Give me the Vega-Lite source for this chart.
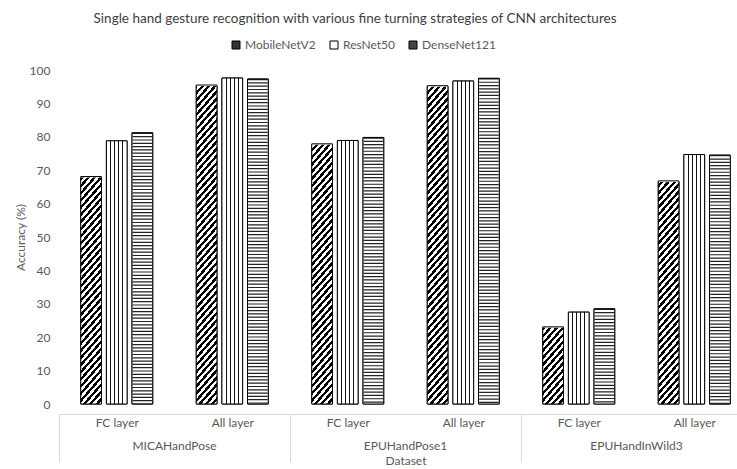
{
  "$schema": "https://vega.github.io/schema/vega-lite/v6.json",
  "padding": {"left": 14, "top": 11, "right": 0, "bottom": 0},
  "background": "white",
  "title": {"text": "Single hand gesture recognition with various fine turning strategies of CNN architectures", "font": "Lato", "fontSize": 13.5, "fontWeight": "normal", "color": "#404040", "anchor": "middle", "dx": -28, "offset": 14},
  "data": {"values": [
    {"Dataset": "MICAHandPose", "Layer": "FC layer", "Model": "MobileNetV2", "Accuracy": 68.1},
    {"Dataset": "MICAHandPose", "Layer": "FC layer", "Model": "ResNet50", "Accuracy": 78.8},
    {"Dataset": "MICAHandPose", "Layer": "FC layer", "Model": "DenseNet121", "Accuracy": 81.2},
    {"Dataset": "MICAHandPose", "Layer": "All layer", "Model": "MobileNetV2", "Accuracy": 95.5},
    {"Dataset": "MICAHandPose", "Layer": "All layer", "Model": "ResNet50", "Accuracy": 97.6},
    {"Dataset": "MICAHandPose", "Layer": "All layer", "Model": "DenseNet121", "Accuracy": 97.3},
    {"Dataset": "EPUHandPose1", "Layer": "FC layer", "Model": "MobileNetV2", "Accuracy": 77.9},
    {"Dataset": "EPUHandPose1", "Layer": "FC layer", "Model": "ResNet50", "Accuracy": 78.9},
    {"Dataset": "EPUHandPose1", "Layer": "FC layer", "Model": "DenseNet121", "Accuracy": 79.8},
    {"Dataset": "EPUHandPose1", "Layer": "All layer", "Model": "MobileNetV2", "Accuracy": 95.3},
    {"Dataset": "EPUHandPose1", "Layer": "All layer", "Model": "ResNet50", "Accuracy": 96.7},
    {"Dataset": "EPUHandPose1", "Layer": "All layer", "Model": "DenseNet121", "Accuracy": 97.5},
    {"Dataset": "EPUHandInWild3", "Layer": "FC layer", "Model": "MobileNetV2", "Accuracy": 23.1},
    {"Dataset": "EPUHandInWild3", "Layer": "FC layer", "Model": "ResNet50", "Accuracy": 27.5},
    {"Dataset": "EPUHandInWild3", "Layer": "FC layer", "Model": "DenseNet121", "Accuracy": 28.5},
    {"Dataset": "EPUHandInWild3", "Layer": "All layer", "Model": "MobileNetV2", "Accuracy": 66.8},
    {"Dataset": "EPUHandInWild3", "Layer": "All layer", "Model": "ResNet50", "Accuracy": 74.7},
    {"Dataset": "EPUHandInWild3", "Layer": "All layer", "Model": "DenseNet121", "Accuracy": 74.5}
  ]},
  "facet": {"column": {"field": "Dataset", "type": "nominal", "sort": ["MICAHandPose", "EPUHandPose1", "EPUHandInWild3"],
    "header": {"labelOrient": "bottom", "titleOrient": "bottom", "title": "Dataset", "labelFont": "Lato", "labelFontSize": 12, "labelColor": "#595959", "labelPadding": -22, "titleFont": "Lato", "titleFontSize": 12, "titleFontWeight": "normal", "titleColor": "#595959", "titlePadding": -17}}},
  "spacing": 0,
  "spec": {
    "width": 231,
    "height": 334,
    "encoding": {
      "x": {"field": "Layer", "type": "nominal", "sort": ["FC layer", "All layer"], "scale": {"paddingInner": 0.377, "paddingOuter": 0.1883},
        "axis": {"title": null, "labelAngle": 0, "labelFont": "Lato", "labelFontSize": 12, "labelColor": "#595959", "domainColor": "#d9d9d9", "tickColor": "#d9d9d9", "tickSize": 48, "tickOffset": -57.75, "labelOffset": 57.75, "tickOpacity": {"condition": {"test": "datum.value === 'FC layer'", "value": 1}, "value": 0}, "labelPadding": -45}},
      "xOffset": {"field": "Model", "type": "nominal", "sort": ["MobileNetV2", "ResNet50", "DenseNet121"], "scale": {"paddingInner": 0.193, "paddingOuter": 0}},
      "y": {"field": "Accuracy", "type": "quantitative", "scale": {"domain": [0, 100]},
        "axis": {"title": "Accuracy (%)", "values": [0, 10, 20, 30, 40, 50, 60, 70, 80, 90, 100], "domain": false, "ticks": false, "grid": false, "labelFont": "Lato", "labelFontSize": 12, "labelColor": "#595959", "labelPadding": 9, "titleFont": "Lato", "titleFontSize": 12, "titleFontWeight": "normal", "titleColor": "#595959", "titlePadding": 2}}
    },
    "layer": [
      {"mark": {"type": "bar", "stroke": "black", "strokeWidth": 1},
       "encoding": {"fill": {"field": "Model", "type": "nominal", "sort": ["MobileNetV2", "ResNet50", "DenseNet121"],
         "scale": {"domain": ["MobileNetV2", "ResNet50", "DenseNet121"], "range": ["#333333", "#ffffff", "#444444"]},
         "legend": {"orient": "none", "legendX": 171, "legendY": -31, "direction": "horizontal", "title": null, "labelFont": "Lato", "labelFontSize": 12, "labelColor": "#595959", "symbolType": "square", "symbolSize": 64, "symbolStrokeColor": "black", "symbolStrokeWidth": 1, "columnPadding": 12, "labelOffset": 3}}}},
      {"mark": {"type": "bar", "fill": "#ffffff", "stroke": null}},
      {"transform": [{"filter": "datum.Model === 'ResNet50'"}],
       "mark": {"type": "bar", "stroke": null, "fill": {"gradient": "linear", "x1": 0, "y1": 0, "x2": 1, "y2": 0, "stops": [
         {"offset": 0, "color": "#fff"}, {"offset": 0.175, "color": "#fff"}, {"offset": 0.175, "color": "#111"}, {"offset": 0.225, "color": "#111"}, {"offset": 0.225, "color": "#fff"},
         {"offset": 0.375, "color": "#fff"}, {"offset": 0.375, "color": "#111"}, {"offset": 0.425, "color": "#111"}, {"offset": 0.425, "color": "#fff"},
         {"offset": 0.575, "color": "#fff"}, {"offset": 0.575, "color": "#111"}, {"offset": 0.625, "color": "#111"}, {"offset": 0.625, "color": "#fff"},
         {"offset": 0.775, "color": "#fff"}, {"offset": 0.775, "color": "#111"}, {"offset": 0.825, "color": "#111"}, {"offset": 0.825, "color": "#fff"},
         {"offset": 1, "color": "#fff"}]}}},
      {"transform": [{"filter": "datum.Model === 'MobileNetV2'"}],
       "mark": {"type": "bar", "stroke": null, "fill": {"gradient": "linear", "x1": 0, "y1": 0, "x2": 0.0753, "y2": 1.0654, "stops": [
         {"offset": 0, "color": "#000"},
         {"offset": 0.01, "color": "#000"}, {"offset": 0.01, "color": "#fff"}, {"offset": 0.02, "color": "#fff"}, {"offset": 0.02, "color": "#000"},
         {"offset": 0.03, "color": "#000"}, {"offset": 0.03, "color": "#fff"}, {"offset": 0.04, "color": "#fff"}, {"offset": 0.04, "color": "#000"},
         {"offset": 0.05, "color": "#000"}, {"offset": 0.05, "color": "#fff"}, {"offset": 0.06, "color": "#fff"}, {"offset": 0.06, "color": "#000"},
         {"offset": 0.07, "color": "#000"}, {"offset": 0.07, "color": "#fff"}, {"offset": 0.08, "color": "#fff"}, {"offset": 0.08, "color": "#000"},
         {"offset": 0.09, "color": "#000"}, {"offset": 0.09, "color": "#fff"}, {"offset": 0.10, "color": "#fff"}, {"offset": 0.10, "color": "#000"},
         {"offset": 0.11, "color": "#000"}, {"offset": 0.11, "color": "#fff"}, {"offset": 0.12, "color": "#fff"}, {"offset": 0.12, "color": "#000"},
         {"offset": 0.13, "color": "#000"}, {"offset": 0.13, "color": "#fff"}, {"offset": 0.14, "color": "#fff"}, {"offset": 0.14, "color": "#000"},
         {"offset": 0.15, "color": "#000"}, {"offset": 0.15, "color": "#fff"}, {"offset": 0.16, "color": "#fff"}, {"offset": 0.16, "color": "#000"},
         {"offset": 0.17, "color": "#000"}, {"offset": 0.17, "color": "#fff"}, {"offset": 0.18, "color": "#fff"}, {"offset": 0.18, "color": "#000"},
         {"offset": 0.19, "color": "#000"}, {"offset": 0.19, "color": "#fff"}, {"offset": 0.20, "color": "#fff"}, {"offset": 0.20, "color": "#000"},
         {"offset": 0.21, "color": "#000"}, {"offset": 0.21, "color": "#fff"}, {"offset": 0.22, "color": "#fff"}, {"offset": 0.22, "color": "#000"},
         {"offset": 0.23, "color": "#000"}, {"offset": 0.23, "color": "#fff"}, {"offset": 0.24, "color": "#fff"}, {"offset": 0.24, "color": "#000"},
         {"offset": 0.25, "color": "#000"}, {"offset": 0.25, "color": "#fff"}, {"offset": 0.26, "color": "#fff"}, {"offset": 0.26, "color": "#000"},
         {"offset": 0.27, "color": "#000"}, {"offset": 0.27, "color": "#fff"}, {"offset": 0.28, "color": "#fff"}, {"offset": 0.28, "color": "#000"},
         {"offset": 0.29, "color": "#000"}, {"offset": 0.29, "color": "#fff"}, {"offset": 0.30, "color": "#fff"}, {"offset": 0.30, "color": "#000"},
         {"offset": 0.31, "color": "#000"}, {"offset": 0.31, "color": "#fff"}, {"offset": 0.32, "color": "#fff"}, {"offset": 0.32, "color": "#000"},
         {"offset": 0.33, "color": "#000"}, {"offset": 0.33, "color": "#fff"}, {"offset": 0.34, "color": "#fff"}, {"offset": 0.34, "color": "#000"},
         {"offset": 0.35, "color": "#000"}, {"offset": 0.35, "color": "#fff"}, {"offset": 0.36, "color": "#fff"}, {"offset": 0.36, "color": "#000"},
         {"offset": 0.37, "color": "#000"}, {"offset": 0.37, "color": "#fff"}, {"offset": 0.38, "color": "#fff"}, {"offset": 0.38, "color": "#000"},
         {"offset": 0.39, "color": "#000"}, {"offset": 0.39, "color": "#fff"}, {"offset": 0.40, "color": "#fff"}, {"offset": 0.40, "color": "#000"},
         {"offset": 0.41, "color": "#000"}, {"offset": 0.41, "color": "#fff"}, {"offset": 0.42, "color": "#fff"}, {"offset": 0.42, "color": "#000"},
         {"offset": 0.43, "color": "#000"}, {"offset": 0.43, "color": "#fff"}, {"offset": 0.44, "color": "#fff"}, {"offset": 0.44, "color": "#000"},
         {"offset": 0.45, "color": "#000"}, {"offset": 0.45, "color": "#fff"}, {"offset": 0.46, "color": "#fff"}, {"offset": 0.46, "color": "#000"},
         {"offset": 0.47, "color": "#000"}, {"offset": 0.47, "color": "#fff"}, {"offset": 0.48, "color": "#fff"}, {"offset": 0.48, "color": "#000"},
         {"offset": 0.49, "color": "#000"}, {"offset": 0.49, "color": "#fff"}, {"offset": 0.50, "color": "#fff"}, {"offset": 0.50, "color": "#000"},
         {"offset": 0.51, "color": "#000"}, {"offset": 0.51, "color": "#fff"}, {"offset": 0.52, "color": "#fff"}, {"offset": 0.52, "color": "#000"},
         {"offset": 0.53, "color": "#000"}, {"offset": 0.53, "color": "#fff"}, {"offset": 0.54, "color": "#fff"}, {"offset": 0.54, "color": "#000"},
         {"offset": 0.55, "color": "#000"}, {"offset": 0.55, "color": "#fff"}, {"offset": 0.56, "color": "#fff"}, {"offset": 0.56, "color": "#000"},
         {"offset": 0.57, "color": "#000"}, {"offset": 0.57, "color": "#fff"}, {"offset": 0.58, "color": "#fff"}, {"offset": 0.58, "color": "#000"},
         {"offset": 0.59, "color": "#000"}, {"offset": 0.59, "color": "#fff"}, {"offset": 0.60, "color": "#fff"}, {"offset": 0.60, "color": "#000"},
         {"offset": 0.61, "color": "#000"}, {"offset": 0.61, "color": "#fff"}, {"offset": 0.62, "color": "#fff"}, {"offset": 0.62, "color": "#000"},
         {"offset": 0.63, "color": "#000"}, {"offset": 0.63, "color": "#fff"}, {"offset": 0.64, "color": "#fff"}, {"offset": 0.64, "color": "#000"},
         {"offset": 0.65, "color": "#000"}, {"offset": 0.65, "color": "#fff"}, {"offset": 0.66, "color": "#fff"}, {"offset": 0.66, "color": "#000"},
         {"offset": 0.67, "color": "#000"}, {"offset": 0.67, "color": "#fff"}, {"offset": 0.68, "color": "#fff"}, {"offset": 0.68, "color": "#000"},
         {"offset": 0.69, "color": "#000"}, {"offset": 0.69, "color": "#fff"}, {"offset": 0.70, "color": "#fff"}, {"offset": 0.70, "color": "#000"},
         {"offset": 0.71, "color": "#000"}, {"offset": 0.71, "color": "#fff"}, {"offset": 0.72, "color": "#fff"}, {"offset": 0.72, "color": "#000"},
         {"offset": 0.73, "color": "#000"}, {"offset": 0.73, "color": "#fff"}, {"offset": 0.74, "color": "#fff"}, {"offset": 0.74, "color": "#000"},
         {"offset": 0.75, "color": "#000"}, {"offset": 0.75, "color": "#fff"}, {"offset": 0.76, "color": "#fff"}, {"offset": 0.76, "color": "#000"},
         {"offset": 0.77, "color": "#000"}, {"offset": 0.77, "color": "#fff"}, {"offset": 0.78, "color": "#fff"}, {"offset": 0.78, "color": "#000"},
         {"offset": 0.79, "color": "#000"}, {"offset": 0.79, "color": "#fff"}, {"offset": 0.80, "color": "#fff"}, {"offset": 0.80, "color": "#000"},
         {"offset": 0.81, "color": "#000"}, {"offset": 0.81, "color": "#fff"}, {"offset": 0.82, "color": "#fff"}, {"offset": 0.82, "color": "#000"},
         {"offset": 0.83, "color": "#000"}, {"offset": 0.83, "color": "#fff"}, {"offset": 0.84, "color": "#fff"}, {"offset": 0.84, "color": "#000"},
         {"offset": 0.85, "color": "#000"}, {"offset": 0.85, "color": "#fff"}, {"offset": 0.86, "color": "#fff"}, {"offset": 0.86, "color": "#000"},
         {"offset": 0.87, "color": "#000"}, {"offset": 0.87, "color": "#fff"}, {"offset": 0.88, "color": "#fff"}, {"offset": 0.88, "color": "#000"},
         {"offset": 0.89, "color": "#000"}, {"offset": 0.89, "color": "#fff"}, {"offset": 0.90, "color": "#fff"}, {"offset": 0.90, "color": "#000"},
         {"offset": 0.91, "color": "#000"}, {"offset": 0.91, "color": "#fff"}, {"offset": 0.92, "color": "#fff"}, {"offset": 0.92, "color": "#000"},
         {"offset": 0.93, "color": "#000"}, {"offset": 0.93, "color": "#fff"}, {"offset": 0.94, "color": "#fff"}, {"offset": 0.94, "color": "#000"},
         {"offset": 0.95, "color": "#000"}, {"offset": 0.95, "color": "#fff"}, {"offset": 0.96, "color": "#fff"}, {"offset": 0.96, "color": "#000"},
         {"offset": 0.97, "color": "#000"}, {"offset": 0.97, "color": "#fff"}, {"offset": 0.98, "color": "#fff"}, {"offset": 0.98, "color": "#000"},
         {"offset": 0.99, "color": "#000"}, {"offset": 0.99, "color": "#fff"}, {"offset": 1, "color": "#fff"}]}},
       "encoding": {"y": {"datum": 100, "type": "quantitative"}, "y2": {"datum": 0}}},
      {"transform": [{"filter": "datum.Model === 'MobileNetV2'"}],
       "mark": {"type": "bar", "fill": "#ffffff", "stroke": "#ffffff", "strokeWidth": 2},
       "encoding": {"y2": {"datum": 100}}},
      {"transform": [{"filter": "datum.Model === 'DenseNet121'"}],
       "mark": {"type": "rule", "strokeWidth": 19.5, "strokeDash": [1.2, 2.1], "color": "#222222", "strokeCap": "butt"},
       "encoding": {"y2": {"datum": 0}}},
      {"mark": {"type": "bar", "fillOpacity": 0, "fill": "#ffffff", "stroke": "black", "strokeWidth": 1}}
    ]
  },
  "config": {"view": {"stroke": null}, "font": "Lato"}
}
